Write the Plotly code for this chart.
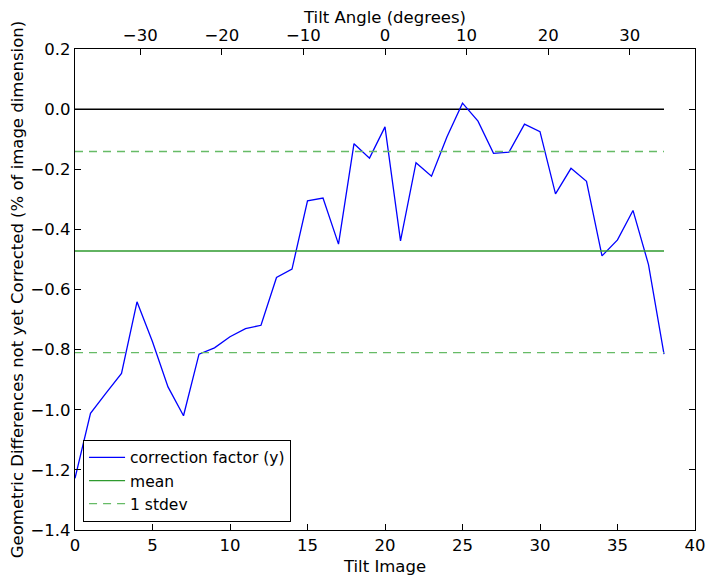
import plotly.graph_objects as go

tilt_image = list(range(39))
correction_y = [-1.228, -1.012, -0.945, -0.879, -0.641, -0.774, -0.924, -1.020, -0.815, -0.794,
                -0.757, -0.730, -0.719, -0.560, -0.532, -0.305, -0.296, -0.449, -0.115, -0.163,
                -0.059, -0.438, -0.178, -0.223, -0.092, 0.020, -0.040, -0.147, -0.143, -0.050,
                -0.075, -0.282, -0.197, -0.240, -0.488, -0.435, -0.337, -0.517, -0.815]
mean_val = -0.472
stdev_upper = -0.141
stdev_lower = -0.810
zero_val = 0.0
top_range = [-38, 38]
top_ticks = [-30, -20, -10, 0, 10, 20, 30]
y_ticks = [0.2, 0.0, -0.2, -0.4, -0.6, -0.8, -1.0, -1.2, -1.4]

font = dict(family="DejaVu Sans", size=16.5, color="black")
legend_font = dict(family="DejaVu Sans", size=15.5, color="black")
mean_color = "#2e9a2e"
std_color = "#66bb66"

fig = go.Figure()
fig.add_trace(go.Scatter(x=tilt_image, y=[zero_val] * len(tilt_image), mode="lines",
                         line=dict(color="black", width=1.5), showlegend=False, hoverinfo="skip"))
fig.add_trace(go.Scatter(x=tilt_image, y=correction_y, mode="lines",
                         line=dict(color="#0000ff", width=1.3), name="correction factor (y)"))
fig.add_trace(go.Scatter(x=tilt_image, y=[mean_val] * len(tilt_image), mode="lines",
                         line=dict(color=mean_color, width=1.3), name="mean"))
fig.add_trace(go.Scatter(x=tilt_image, y=[stdev_upper] * len(tilt_image), mode="lines",
                         line=dict(color=std_color, width=1.3, dash="8px,6px"), name="1 stdev"))
fig.add_trace(go.Scatter(x=tilt_image, y=[stdev_lower] * len(tilt_image), mode="lines",
                         line=dict(color=std_color, width=1.3, dash="8px,6px"), showlegend=False))
# empty trace so the top (tilt angle) axis is drawn
fig.add_trace(go.Scatter(x=top_range, y=[None, None], xaxis="x2", mode="lines",
                         showlegend=False, hoverinfo="skip"))

axis_common = dict(showline=True, linecolor="black", linewidth=1.2, ticks="inside",
                   ticklen=6, tickcolor="black", showgrid=False, zeroline=False,
                   tickfont=font, automargin=False)

# page body adds an 8px offset, so the figure is 8px smaller
fig.update_layout(
    width=706, height=571,
    margin=dict(l=67, r=19, t=41, b=49, autoexpand=False),
    paper_bgcolor="white", plot_bgcolor="white",
    font=font,
    xaxis=dict(range=[0, 40], tickmode="array", tickvals=[0, 5, 10, 15, 20, 25, 30, 35, 40],
               mirror=True, title=dict(text="Tilt Image", font=font, standoff=6), **axis_common),
    xaxis2=dict(range=top_range, overlaying="x", side="top", tickmode="array",
                tickvals=top_ticks, anchor="y",
                title=dict(text="Tilt Angle (degrees)", font=font, standoff=4), **axis_common),
    yaxis=dict(range=[-1.4, 0.2], tickmode="array", tickvals=y_ticks, tickformat=".1f",
               mirror="ticks",
               title=dict(text="Geometric Differences not yet Corrected (% of image dimension)",
                          font=font, standoff=4), **axis_common),
    legend=dict(x=0.013, y=0.017, xanchor="left", yanchor="bottom", bordercolor="black",
                borderwidth=1, bgcolor="white", font=legend_font, tracegroupgap=0,
                itemwidth=36),
)
fig.write_html("out.html")
